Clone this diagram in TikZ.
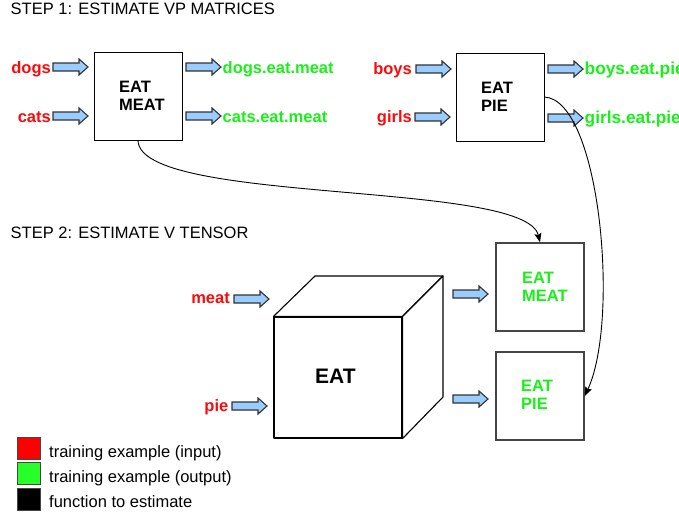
\documentclass[tikz,border=0pt]{standalone}
\usepackage{fontspec}
\setmainfont{Liberation Sans}
\usetikzlibrary{arrows.meta}
\definecolor{inred}{RGB}{250,10,10}
\definecolor{outgreen}{RGB}{25,240,25}
\definecolor{legred}{RGB}{255,0,0}
\definecolor{leggreen}{RGB}{40,255,40}
\definecolor{arrfill}{RGB}{153,204,255}
\definecolor{arrline}{RGB}{50,50,50}
\definecolor{boxgray}{RGB}{70,70,70}
\tikzset{
  norm/.style={font=\fontsize{16.5}{18.3}\selectfont, inner sep=0pt},
  lab/.style={norm, font=\fontsize{16.5}{18.3}\selectfont\bfseries},
  inlab/.style={lab, text=inred, anchor=base east},
  outlab/.style={lab, text=outgreen, anchor=base west},
  funbox/.style={draw=black, line width=1pt, fill=white, minimum width=88pt, minimum height=88pt, inner sep=0pt},
  resbox/.style={draw=boxgray, line width=1.5pt, fill=white, minimum width=88pt, minimum height=88pt, inner sep=0pt},
  boxtext/.style={lab, align=left, anchor=north west},
  legsq/.style={draw=boxgray, line width=0.8pt, minimum width=23pt, minimum height=22pt, inner sep=0pt},
  legtext/.style={norm, anchor=base west},
  link/.style={draw=black, line width=0.9pt, -{Stealth[length=9pt,width=7pt,inset=1.5pt]}},
  barrow/.pic={\draw[arrline, line width=1.1pt, fill=arrfill, line join=miter]
     (0,-4) -- (26,-4) -- (26,-8) -- (35,0) -- (26,8) -- (26,4) -- (0,4) -- cycle;},
  cubeline/.style={draw=black, line width=1.1pt, fill=white, line join=round}
}
\begin{document}
\begin{tikzpicture}[x=1pt,y=-1pt]
\useasboundingbox (0,0) rectangle (679,515);
\clip (0,0) rectangle (679,515);

% Titles
\node[norm, anchor=base west] (step1) at (10.5,14) {STEP 1: ESTIMATE VP MATRICES};
\node[norm, anchor=base west] (step2) at (10.5,238) {STEP 2: ESTIMATE V TENSOR};

% Step 1 boxes
\node[funbox] (b1) at (138,96) {};
\node[boxtext] (b1t) at (119,80.5) {EAT\\MEAT};
\node[funbox] (b2) at (500,97) {};
\node[boxtext] (b2t) at (481,81.5) {EAT\\PIE};

% Step 1 arrows and labels
\pic (a1) at (53,67) {barrow};
\pic (a2) at (53,116) {barrow};
\pic (a3) at (186,67) {barrow};
\pic (a4) at (186,116) {barrow};
\node[inlab] (dogs) at (51,73) {dogs};
\node[inlab] (cats) at (51,122) {cats};
\node[outlab] (dem) at (222.5,73) {dogs.eat.meat};
\node[outlab] (cem) at (222.5,122) {cats.eat.meat};

\pic (a5) at (416,69) {barrow};
\pic (a6) at (415,117) {barrow};
\pic (a7) at (548,69) {barrow};
\pic (a8) at (548,118) {barrow};
\node[inlab] (boys) at (412,74.5) {boys};
\node[inlab] (girls) at (412,122.5) {girls};
\node[outlab, font=\fontsize{17.3}{19}\selectfont\bfseries] (bep) at (584.5,74.5) {boys.eat.pie};
\node[outlab, font=\fontsize{17.3}{19}\selectfont\bfseries] (gep) at (584.5,123) {girls.eat.pie};

% Cube
\node[cubeline, minimum width=128pt, minimum height=121pt, inner sep=0pt] (cube) at (338,377.5) {};
\coordinate (tbl) at (315,276);
\coordinate (tbr) at (443,276);
\coordinate (bbr) at (443,397);
\draw[cubeline] (cube.north west) -- (tbl) -- (tbr) -- (cube.north east) -- cycle;
\draw[cubeline] (cube.north east) -- (tbr) -- (bbr) -- (cube.south east) -- cycle;
\node[lab, font=\fontsize{21}{24}\selectfont\bfseries, anchor=base west] (eat) at (315,383.5) {EAT};

% Step 2 inputs
\pic (a9) at (234,299) {barrow};
\pic (a10) at (232,406) {barrow};
\node[inlab] (meat) at (230,303.5) {meat};
\node[inlab] (pie) at (228.5,411) {pie};

% Step 2 outputs
\pic (a11) at (453,294) {barrow};
\pic (a12) at (453,399) {barrow};
\node[resbox] (g1) at (540,287) {};
\node[boxtext, text=outgreen] (g1t) at (522,271.5) {EAT\\MEAT};
\node[resbox] (g2) at (540,396) {};
\node[boxtext, text=outgreen] (g2t) at (521,380) {EAT\\PIE};

% Links
\draw[link] (b1.south) .. controls (140,205) and (525,180) .. (g1.north);
\draw[link] (b2.east) .. controls (600,100) and (620,320) .. (g2.east);

% Legend
\node[legsq, fill=legred] (lr) at (29,448) {};
\node[legsq, fill=leggreen] (lg) at (29,473.5) {};
\node[legsq, fill=black] (lk) at (29,499.5) {};
\node[legtext] (tr) at (49,457.5) {training example (input)};
\node[legtext] (tg) at (49,482.5) {training example (output)};
\node[legtext] (tk) at (49,507.5) {function to estimate};
\end{tikzpicture}
\end{document}
